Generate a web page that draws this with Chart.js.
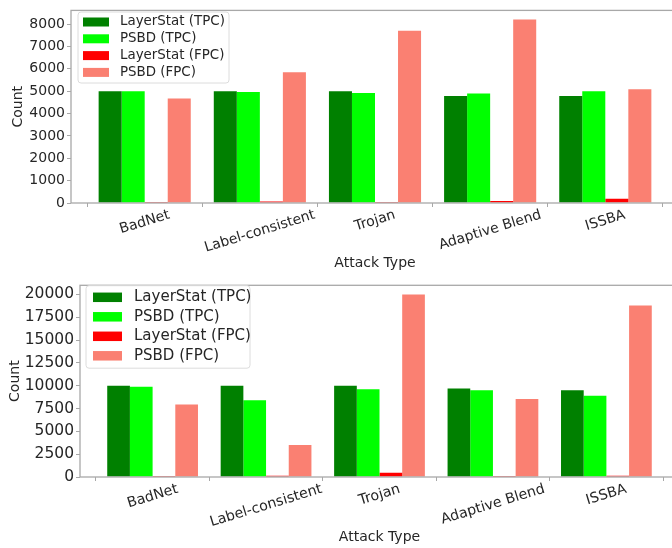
<!DOCTYPE html>
<html>
<head>
<meta charset="utf-8">
<script src="https://cdn.jsdelivr.net/npm/chart.js@4.4.1/dist/chart.umd.min.js"></script>
<style>
  html, body { margin: 0; padding: 0; background: #fff; overflow: hidden; width: 672px; height: 548px; }
  .panel { position: absolute; left: 0; width: 690px; height: 274px; }
</style>
</head>
<body>
<div class="panel" style="top:0"><canvas id="topChart"></canvas></div>
<div class="panel" style="top:274px"><canvas id="bottomChart"></canvas></div>
<script>
const attackTypes = ["BadNet", "Label-consistent", "Trojan", "Adaptive Blend", "ISSBA"];
const seriesNames = ["LayerStat (TPC)", "PSBD (TPC)", "LayerStat (FPC)", "PSBD (FPC)"];
const seriesColors = ["#008000", "#00ff00", "#ff0000", "#fa8072"];

// upper panel
const topLayerStatTPC = [5000, 5000, 5000, 4780, 4780];
const topPsbdTPC      = [5000, 4960, 4920, 4900, 5000];
const topLayerStatFPC = [40, 70, 40, 90, 190];
const topPsbdFPC      = [4670, 5850, 7700, 8200, 5080];
const topYTicks       = [0, 1000, 2000, 3000, 4000, 5000, 6000, 7000, 8000];

// lower panel
const bottomLayerStatTPC = [10000, 10000, 10000, 9700, 9500];
const bottomPsbdTPC      = [9900, 8400, 9600, 9500, 8900];
const bottomLayerStatFPC = [10, 150, 460, 100, 150];
const bottomPsbdFPC      = [7950, 3500, 20000, 8550, 18800];
const bottomYTicks       = [0, 2500, 5000, 7500, 10000, 12500, 15000, 17500, 20000];

const TEXT = "#262626";
const FONT = '"DejaVu Sans", sans-serif';

// frame around the plot area (all four spines)
const framePlugin = {
  id: "frame",
  afterDatasetsDraw(chart) {
    const { ctx, chartArea: a } = chart;
    ctx.save();
    ctx.strokeStyle = "#a8a8a8";
    ctx.lineWidth = 1.3;
    ctx.strokeRect(a.left, a.top, a.right - a.left, a.bottom - a.top);
    ctx.restore();
  }
};

// rotated, centred category labels like matplotlib
const catLabelPlugin = {
  id: "catLabels",
  afterDraw(chart, args, opts) {
    const { ctx, chartArea } = chart;
    const xs = chart.scales.x;
    const ang = opts.angle * Math.PI / 180;
    ctx.save();
    ctx.font = opts.size + "px " + FONT;
    ctx.fillStyle = TEXT;
    ctx.textAlign = "center";
    ctx.textBaseline = "middle";
    attackTypes.forEach((lab, i) => {
      const w = ctx.measureText(lab).width;
      const bh = w * Math.sin(ang) + opts.size * Math.cos(ang);
      const cx = xs.getPixelForValue(i);
      const cy = chartArea.bottom + opts.pad + bh / 2;
      ctx.save();
      ctx.translate(cx, cy);
      ctx.rotate(-ang);
      ctx.fillText(lab, 0, 0);
      ctx.restore();
    });
    ctx.restore();
  }
};

// legend box inside the axes, upper left
const boxLegendPlugin = {
  id: "boxLegend",
  afterDraw(chart, args, o) {
    const { ctx } = chart;
    ctx.save();
    ctx.fillStyle = "rgba(255,255,255,0.85)";
    ctx.strokeStyle = "#dcdcdc";
    ctx.lineWidth = 1;
    ctx.beginPath();
    ctx.roundRect(o.x, o.y, o.w, o.h, 3);
    ctx.fill();
    ctx.stroke();
    ctx.font = o.size + "px " + FONT;
    ctx.textBaseline = "middle";
    chart.data.datasets.forEach((ds, i) => {
      const cy = o.firstRow + i * o.rowGap;
      ctx.fillStyle = ds.backgroundColor;
      ctx.fillRect(o.patchX, cy - o.patchH / 2, o.patchW, o.patchH);
      ctx.fillStyle = TEXT;
      ctx.fillText(ds.label, o.textX, cy);
    });
    ctx.restore();
  }
};

function makePanel(canvasId, series, yTicks, cfg) {
  const datasets = series.map((vals, k) => ({
    label: seriesNames[k],
    data: vals.map((v, i) => ({ x: i, y: v })),
    backgroundColor: seriesColors[k],
    borderWidth: 0,
    categoryPercentage: 0.8,
    barPercentage: 1.0
  }));
  const yMax = Math.max(...series.flat()) * 1.05;

  return new Chart(document.getElementById(canvasId), {
    type: "bar",
    data: { datasets: datasets },
    options: {
      responsive: true,
      maintainAspectRatio: false,
      animation: false,
      layout: { padding: { top: cfg.padTop, right: 11, bottom: 0, left: 0 } },
      plugins: {
        legend: { display: false },
        tooltip: { enabled: false },
        catLabels: { angle: 17, size: cfg.xTickSize, pad: 5 },
        boxLegend: cfg.legend
      },
      scales: {
        x: {
          type: "linear",
          min: -0.64,
          max: 4.64,
          offset: false,
          afterBuildTicks: (axis) => { axis.ticks = attackTypes.map((c, i) => ({ value: i })); },
          afterFit: (axis) => { axis.height = 71; },
          grid: { drawOnChartArea: false, drawTicks: true, tickLength: 4, color: "#a8a8a8" },
          border: { display: false },
          ticks: { display: false },
          title: {
            display: true,
            text: "Attack Type",
            color: TEXT,
            font: { family: FONT, size: 14 },
            padding: { top: 0, bottom: 2.5 }
          }
        },
        y: {
          min: 0,
          max: yMax,
          afterBuildTicks: (axis) => { axis.ticks = yTicks.map(v => ({ value: v })); },
          afterFit: (axis) => { axis.width = cfg.left; },
          grid: { drawOnChartArea: false, drawTicks: true, tickLength: 4, color: "#a8a8a8" },
          border: { display: false },
          ticks: {
            color: TEXT,
            padding: 2,
            font: { family: FONT, size: cfg.yTickSize },
            callback: (v) => String(v)
          },
          title: {
            display: true,
            text: "Count",
            color: TEXT,
            font: { family: FONT, size: 14 },
            padding: { top: cfg.yTitlePad, bottom: 0 }
          }
        }
      }
    },
    plugins: [framePlugin, catLabelPlugin, boxLegendPlugin]
  });
}

makePanel("topChart", [topLayerStatTPC, topPsbdTPC, topLayerStatFPC, topPsbdFPC], topYTicks, {
  padTop: 7, left: 71, yTickSize: 14, xTickSize: 14, yTitlePad: 9.5,
  legend: { x: 78, y: 12, w: 151, h: 71, patchX: 83, patchW: 26, patchH: 9,
            textX: 120, firstRow: 22, rowGap: 16.8, size: 13.4 }
});

makePanel("bottomChart", [bottomLayerStatTPC, bottomPsbdTPC, bottomLayerStatFPC, bottomPsbdFPC], bottomYTicks, {
  padTop: 6, left: 80, yTickSize: 15.5, xTickSize: 14.2, yTitlePad: 6.5,
  legend: { x: 86, y: 11.7, w: 164, h: 82.5, patchX: 93, patchW: 29, patchH: 9.5,
            textX: 134, firstRow: 23.3, rowGap: 19.5, size: 15 }
});
</script>
</body>
</html>
